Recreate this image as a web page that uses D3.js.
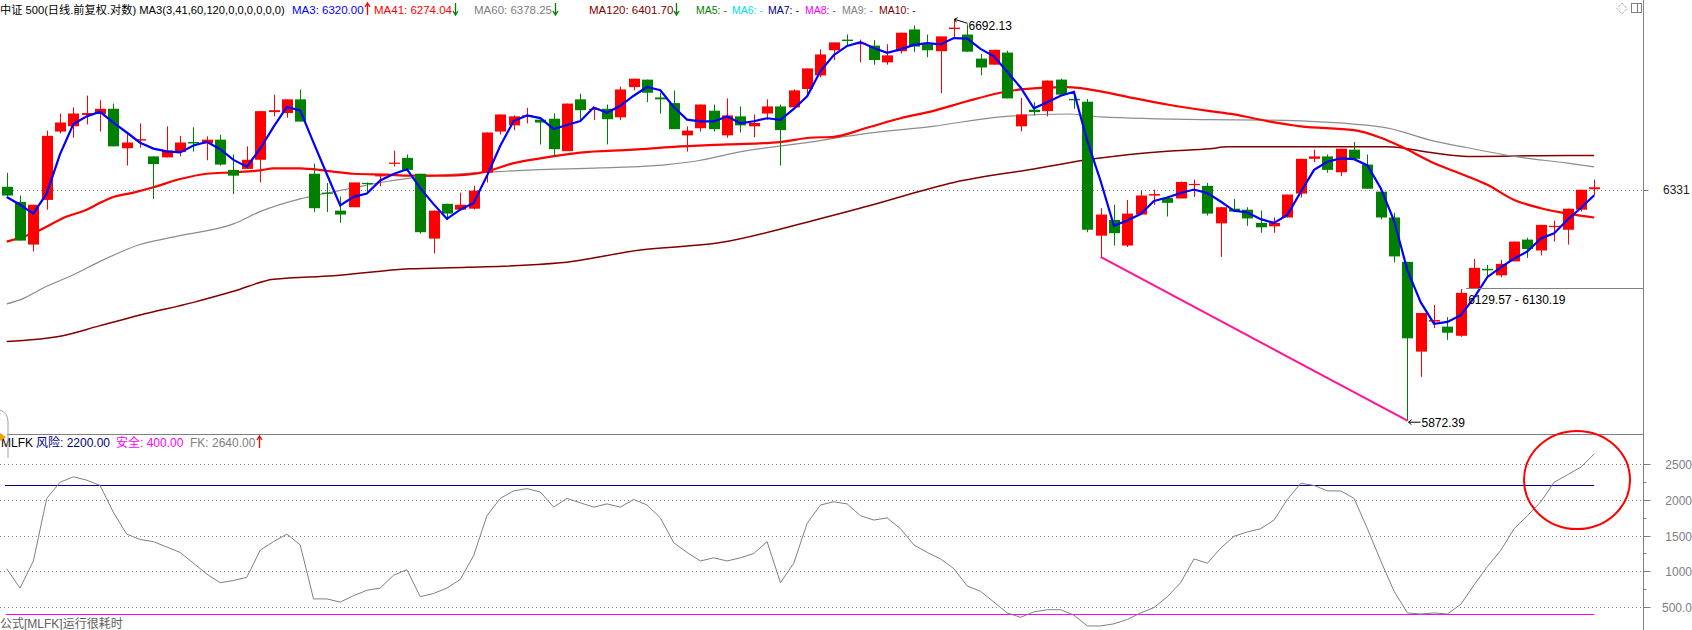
<!DOCTYPE html>
<html><head><meta charset="utf-8">
<script src="https://cdn.jsdelivr.net/npm/d3@7"></script>
<style>
body{margin:0;background:#fff;}
svg{display:block;}
text{font-family:"Liberation Sans",Arial,"Noto Sans CJK SC",sans-serif;}
</style>
</head><body>
<svg id="c" width="1692" height="630"></svg>
<script>
// ---------------- DATA ----------------
const opens=[6337,6306,6219,6310,6452,6463,6487,6489,6500,6417,
6433,6400,6398,6409,6430,6427,6435,6372,6374,6393,
6493,6491,6520,6364,6325,6288,6295,6345,6359,6385,
6397,6364,6231,6302,6290,6292,6366,6452,6465,6483,
6477,6479,6411,6520,6498,6500,6482,6546,6562,6524,
6512,6444,6459,6496,6444,6484,6463,6490,6505,6503,
6542,6571,6625,6648,6638,6635,6599,6623,6670,6638,
6623,6671,6659,6607,6594,6620,6463,6498,6495,6562,
6521,6515,6237,6269,6217,6280,6319,6314,6313,6341,
6339,6262,6292,6290,6263,6256,6274,6323,6395,6400,
6367,6414,6383,6327,6274,6184,6006,6065,6055,6037,
6131,6170,6157,6185,6229,6207,6255,6249,6290,6332];
const highs=[6366,6319,6300,6454,6490,6503,6528,6518,6511,6449,
6469,6400,6463,6443,6461,6442,6445,6404,6421,6495,
6530,6520,6541,6385,6345,6317,6346,6346,6364,6412,
6404,6364,6288,6302,6325,6339,6450,6488,6486,6502,
6477,6490,6511,6532,6502,6509,6547,6564,6562,6534,
6539,6463,6509,6509,6522,6505,6488,6520,6509,6541,
6586,6627,6642,6659,6648,6647,6638,6663,6679,6659,
6655,6692.13,6681,6617,6626,6624,6523,6514,6560,6564,
6534,6521,6293,6300,6310,6329,6331,6317,6348,6352,
6345,6295,6312,6295,6288,6274,6321,6395,6414,6404,
6416,6430,6404,6327,6284,6184,6082,6098,6074,6129.57,
6190,6178,6188,6225,6233,6259,6268,6292,6331,6352];
const lows=[6318,6227,6205,6290,6448,6439,6467,6452,6421,6381,
6418,6312,6398,6400,6410,6392,6381,6322,6374,6346,
6484,6481,6473,6285,6285,6263,6295,6322,6338,6379,
6372,6241,6201,6269,6290,6290,6346,6446,6455,6469,
6425,6399,6411,6477,6476,6425,6476,6539,6514,6490,
6457,6410,6452,6452,6439,6450,6440,6477,6381,6503,
6527,6567,6604,6634,6599,6594,6594,6618,6621,6610,
6533,6654,6622,6571,6594,6522,6452,6486,6484,6530,
6500,6244,6194,6217,6214,6280,6300,6276,6313,6316,
6278,6194,6285,6257,6243,6243,6274,6315,6388,6366,
6359,6395,6333,6270,6183,5872.39,5957,6052,6029,6035,
6130.19,6155,6153,6185,6192,6197,6225,6219,6286,6319];
const closes=[6319,6227,6300,6443,6471,6490,6491,6500,6421,6429,
6436,6384,6412,6429,6427,6435,6383,6360,6393,6495,
6497,6520,6473,6293,6323,6280,6346,6343,6361,6387,
6372,6244,6288,6282,6300,6329,6450,6488,6484,6486,
6471,6415,6511,6497,6500,6478,6541,6564,6534,6520,
6457,6454,6509,6457,6486,6465,6470,6505,6455,6539,
6586,6616,6642,6645,6641,6604,6614,6663,6633,6625,
6655,6674,6622,6588,6626,6522,6488,6493,6560,6530,
6518,6249,6280,6242,6282,6319,6322,6304,6347,6343,
6282,6295,6286,6272,6254,6263,6321,6395,6400,6372,
6416,6395,6333,6274,6195,6032,6082,6068,6043,6122,
6172,6167,6180,6225,6210,6259,6257,6292,6331,6336];
// MA3 values before enough closes exist
const ma3Lead=[6316,6300];

const ma41Idx=[0,2,4.5,6,7,8,9.5,11,13,15,17,19,20,22,24,26,28.5,30.2,33,36,38,40,43,47,50,54,58,60.2,62,64.5,67,69.4,72,74.5,76,79.5,82,84.4,87,90.2,92,94.5,97,101,103,104.5,107,109,111,113,115,117,119];
const ma41Val=[6225,6242,6276,6290,6304,6316,6325,6336,6353,6364,6367,6371,6375,6375,6370,6364,6362,6360,6360,6369,6386,6396,6408,6414,6420,6425,6430,6439,6441,6460,6480,6495,6516,6534,6541,6546,6537,6523,6509,6495,6488,6474,6463,6455,6439,6421,6386,6364,6341,6310,6293,6282,6274.04];
const ma60Idx=[0,1,3,5,7,10,13,17,19,22,24,26,28.5,30.2,32.5,36.5,39.5,44.5,49.5,52,54.5,60.2,64.5,69.4,74.5,79.5,82,90.2,94.5,103,107,109.5,113,117,119];
const ma60Val=[6100,6108,6135,6158,6185,6219,6237,6261,6286,6312,6324,6335,6348,6355,6361,6368,6372,6376,6383,6392,6407,6430,6448,6463,6483,6489,6483,6477,6476,6462,6432,6418,6400,6386,6378.25];
const ma120Idx=[0,4,7,10,14,17,20,24.5,30.2,34.5,41.5,47.5,53.5,60.2,64.5,71,77,81.5,87,90.2,91.5,103.5,107,109.5,117,119];
const ma120Val=[6026,6036,6057,6078,6103,6125,6149,6156,6170,6173,6182,6208,6223,6266,6297,6346,6374,6395,6411,6416,6420,6420,6407,6400,6402,6401.70];

// MLFK indicator (bottom panel)
const fk=[1036,765,1144,2019,2245,2320,2274,2200,1822,1519,
1444,1414,1339,1263,1112,961,840,870,915,1294,
1414,1519,1369,613,613,569,658,734,765,945,
1021,644,689,765,885,1218,1777,2019,2124,2155,
2109,1897,2019,1957,1897,1942,1897,2004,1927,1746,
1399,1263,1144,1188,1144,1188,1248,1414,840,1112,
1670,1927,1972,1942,1777,1716,1746,1595,1369,1263,
1173,1036,794,719,569,417,356,432,462,462,
387,235,235,265,326,417,492,644,840,1173,
1112,1324,1489,1550,1595,1716,2004,2230,2200,2124,
2124,2019,1595,1144,719,417,402,417,402,538,
810,1066,1294,1595,1777,1972,2245,2350,2456,2640];
const riskLevel=2200, safeLevel=400;
const fkTicks=[2500,2000,1500,1000,500];
const fkTickLabels=["2500","2000","1500","1000","500.0"];
const fkMinorTicks=[2250,1750,1250,750];
const priceMark=6331;
const hiMark={i:71,v:6692.13,label:"6692.13"};
const loMark={i:105,v:5872.39,label:"5872.39"};
const gapMark={i:110,v:6130.19,label:"6129.57 - 6130.19"};
const trendFrom={i:82,v:6194}, trendTo={i:105,v:5872.39};

const titleText="中证 500(日线.前复权.对数) MA3(3,41,60,120,0,0,0,0,0,0)";
const legendItems=[
 {t:"MA3: 6320.00",c:"#0000ff",x:292,arrow:"up",fs:11.5},
 {t:"MA41: 6274.04",c:"#ff0000",x:374,arrow:"down",fs:11.5},
 {t:"MA60: 6378.25",c:"#808080",x:474,arrow:"down",fs:11.5},
 {t:"MA120: 6401.70",c:"#800000",x:589,arrow:"down",fs:11.5},
 {t:"MA5: -",c:"#008000",x:696,fs:10.5},
 {t:"MA6: -",c:"#00e0e0",x:732,fs:10.5},
 {t:"MA7: -",c:"#000080",x:768,fs:10.5},
 {t:"MA8: -",c:"#ff00ff",x:805,fs:10.5},
 {t:"MA9: -",c:"#808080",x:842,fs:10.5},
 {t:"MA10: -",c:"#800000",x:879,fs:10.5}];
const subLegend=[
 {t:"MLFK",c:"#000000",x:1},
 {t:"风险: 2200.00",c:"#000080",x:36},
 {t:"安全: 400.00",c:"#ff00ff",x:116},
 {t:"FK: 2640.00",c:"#808080",x:190}];

// ---------------- DRAW ----------------
const svg=d3.select("#c");
const axisX=1643.5;
const x=d3.scaleLinear().domain([0,119]).range([6.7,1594.2]);
const y=d3.scaleLog().domain([5872.39,6692.13]).range([420.7,19.3]);
const yb=d3.scaleLinear().domain([500,2500]).range([607,464]);
const RED="#ff0000", GREEN="#008000";

// frame lines
svg.append("line").attr("x1",axisX).attr("x2",axisX).attr("y1",0).attr("y2",630).attr("stroke","#808080");
svg.append("line").attr("x1",7).attr("x2",axisX).attr("y1",434.5).attr("y2",434.5).attr("stroke","#808080");

// dotted price line
svg.append("line").attr("x1",13).attr("x2",axisX).attr("y1",Math.round(y(priceMark))+0.5).attr("y2",Math.round(y(priceMark))+0.5)
 .attr("stroke","#808080").attr("stroke-dasharray","1,3");
svg.append("line").attr("x1",axisX).attr("x2",axisX+5).attr("y1",Math.round(y(priceMark))+0.5).attr("y2",Math.round(y(priceMark))+0.5).attr("stroke","#808080");
svg.append("text").attr("x",1663).attr("y",y(priceMark)+4).attr("font-size",12).attr("fill","#222").text(String(priceMark));

// MA lines (behind candles)
const pts=(idx,val)=>idx.map((d,k)=>[x(d),y(val[k])]);
const ln=d3.line().curve(d3.curveMonotoneX);
svg.append("path").attr("d",ln(pts(ma120Idx,ma120Val))).attr("fill","none").attr("stroke","#800000").attr("stroke-width",1.5);
svg.append("path").attr("d",ln(pts(ma60Idx,ma60Val))).attr("fill","none").attr("stroke","#8c8c8c").attr("stroke-width",1.2);
svg.append("path").attr("d",ln(pts(ma41Idx,ma41Val))).attr("fill","none").attr("stroke","#ff0000").attr("stroke-width",2.2);

// candles
const idx=d3.range(closes.length);
const g=svg.append("g");
idx.forEach(i=>{
  const up=closes[i]>=opens[i];
  const col=up?RED:GREEN;
  const cx=Math.round(x(i));
  g.append("line").attr("x1",cx+0.5).attr("x2",cx+0.5).attr("y1",y(highs[i])).attr("y2",y(lows[i])).attr("stroke",col);
  const top=y(Math.max(opens[i],closes[i])), bot=y(Math.min(opens[i],closes[i]));
  g.append("rect").attr("x",cx-5).attr("width",11).attr("y",top).attr("height",Math.max(1.2,bot-top)).attr("fill",col);
});

// MA3 line
const ma3=idx.map(i=> i<2? ma3Lead[i] : d3.mean(closes.slice(i-2,i+1)));
svg.append("path").attr("d",d3.line()(idx.map(i=>[x(i),y(ma3[i])]))).attr("fill","none").attr("stroke","#0000ff").attr("stroke-width",2.2);

// trend line
svg.append("line").attr("x1",x(trendFrom.i)).attr("y1",y(trendFrom.v)).attr("x2",x(trendTo.i)).attr("y2",y(trendTo.v))
 .attr("stroke","#ff1493").attr("stroke-width",2);

// annotations
const hx=Math.round(x(hiMark.i))+0.5, hy=y(hiMark.v);
svg.append("path").attr("d",`M${hx},${hy} L${hx+13},${hy+4} M${hx},${hy} l3,-1.5 M${hx},${hy} l2,3`).attr("stroke","#000").attr("fill","none");
svg.append("text").attr("x",hx+14).attr("y",hy+11).attr("font-size",12).attr("fill","#000").text(hiMark.label);
const lx=Math.round(x(loMark.i))+0.5, ly=y(loMark.v)+1.5;
svg.append("path").attr("d",`M${lx+1},${ly} L${lx+13},${ly} M${lx+1},${ly} l3,-2.5 M${lx+1},${ly} l3,2.5`).attr("stroke","#000").attr("fill","none");
svg.append("text").attr("x",lx+14).attr("y",ly+4.5).attr("font-size",12).attr("fill","#000").text(loMark.label);
const gy=Math.round(y(gapMark.v))-0.5;
svg.append("line").attr("x1",x(gapMark.i)-8).attr("x2",axisX).attr("y1",gy).attr("y2",gy).attr("stroke","#808080");
svg.append("text").attr("x",x(gapMark.i)-6).attr("y",gy+15).attr("font-size",12).attr("fill","#000").text(gapMark.label);

// legend
svg.append("text").attr("x",0).attr("y",14).attr("font-size",11.2).attr("fill","#000").text(titleText);
function arrow(xp,dir,yTop,yBot){
  const col=dir==="up"?RED:GREEN;
  const p=dir==="up"?`M${xp},${yTop} L${xp},${yBot} M${xp-2.5},${yTop+4} L${xp},${yTop} L${xp+2.5},${yTop+4}`
                   :`M${xp},${yTop} L${xp},${yBot} M${xp-2.5},${yBot-4} L${xp},${yBot} L${xp+2.5},${yBot-4}`;
  svg.append("path").attr("d",p).attr("stroke",col).attr("stroke-width",1.3).attr("fill","none");
}
legendItems.forEach(d=>{
  const t=svg.append("text").attr("x",d.x).attr("y",14).attr("font-size",d.fs).attr("fill",d.c).text(d.t);
  if(d.arrow){const w=t.node().getComputedTextLength(); arrow(Math.round(d.x+w+3)+0.5,d.arrow,3,15);}
});
// top-right icons
svg.append("path").attr("d","M1622,3 L1627,8.5 L1622,14 L1617,8.5 Z").attr("fill","none").attr("stroke","#808080").attr("stroke-dasharray","1,1");
svg.append("rect").attr("x",1631.5).attr("y",3.5).attr("width",10).attr("height",9).attr("fill","none").attr("stroke","#808080");
svg.append("line").attr("x1",1637.5).attr("x2",1637.5).attr("y1",3.5).attr("y2",12.5).attr("stroke","#808080");

// ---------- bottom panel ----------
fkTicks.forEach((v,k)=>{
  const yy=Math.round(yb(v))+0.5;
  svg.append("line").attr("x1",0).attr("x2",axisX).attr("y1",yy).attr("y2",yy).attr("stroke","#808080").attr("stroke-dasharray","1,3");
  svg.append("line").attr("x1",axisX).attr("x2",axisX+7).attr("y1",yy).attr("y2",yy).attr("stroke","#808080");
  svg.append("text").attr("x",1692).attr("y",yy+4).attr("text-anchor","end").attr("font-size",12).attr("fill","#808080").text(fkTickLabels[k]);
});
fkMinorTicks.forEach(v=>{
  const yy=Math.round(yb(v))+0.5;
  svg.append("line").attr("x1",axisX).attr("x2",axisX+3).attr("y1",yy).attr("y2",yy).attr("stroke","#808080");
});
svg.append("line").attr("x1",5).attr("x2",x(119)).attr("y1",Math.round(yb(riskLevel))+0.5).attr("y2",Math.round(yb(riskLevel))+0.5).attr("stroke","#000080");
svg.append("line").attr("x1",6).attr("x2",x(119)).attr("y1",Math.round(yb(safeLevel))+0.5).attr("y2",Math.round(yb(safeLevel))+0.5).attr("stroke","#ff00ff");
svg.append("path").attr("d",d3.line()(idx.map(i=>[x(i),yb(fk[i])]))).attr("fill","none").attr("stroke","#808080").attr("stroke-width",1);

// red circle
svg.append("ellipse").attr("cx",1577).attr("cy",480).attr("rx",53).attr("ry",49).attr("fill","none").attr("stroke","#ff0000").attr("stroke-width",2);

// sub legend
subLegend.forEach(d=>{svg.append("text").attr("x",d.x).attr("y",446.5).attr("font-size",12).attr("fill",d.c).text(d.t);});
arrow(259.5,"up",436,448);
svg.append("text").attr("x",0).attr("y",628).attr("font-size",12).attr("fill","#606060").text("公式[MLFK]运行很耗时");

// left tab
svg.append("path").attr("d","M0,410 Q8,413 8,422 L8,458").attr("fill","none").attr("stroke","#a0a0a0");
svg.append("path").attr("d","M0,433 L6,437 L0,441 Z").attr("fill","#f0a000");
</script>
</body></html>
